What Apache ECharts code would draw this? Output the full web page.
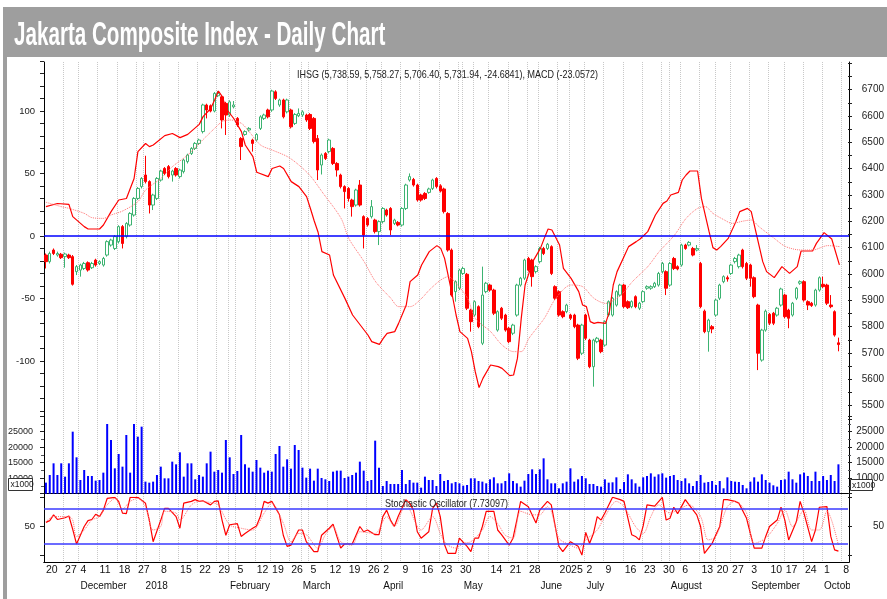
<!DOCTYPE html>
<html>
<head>
<meta charset="utf-8">
<script src="https://cdn.jsdelivr.net/npm/echarts@6/dist/echarts.min.js"></script>
<style>
  html, body { margin: 0; padding: 0; background: #fff; }
  #chart { width: 887px; height: 599px; }
</style>
</head>
<body>
<div id="chart"></div>
<script>
// trading days shown on the chart (IDX holidays left out)
const tradingDays = {
  '2017-11': [20, 21, 22, 23, 24, 27, 28, 29, 30],
  '2017-12': [4, 5, 6, 7, 8, 11, 12, 13, 14, 15, 18, 19, 20, 21, 22, 27, 28],
  '2018-01': [2, 3, 4, 5, 8, 9, 10, 11, 12, 15, 16, 17, 18, 19, 22, 23, 24, 25, 26, 29, 30, 31],
  '2018-02': [1, 2, 5, 6, 7, 8, 9, 12, 13, 14, 15, 19, 20, 21, 22, 23, 26, 27, 28],
  '2018-03': [1, 2, 5, 6, 7, 8, 9, 12, 13, 14, 15, 16, 19, 20, 21, 22, 23, 26, 27, 28, 29],
  '2018-04': [2, 3, 4, 5, 6, 9, 10, 11, 12, 13, 16, 17, 18, 19, 20, 23, 24, 25, 26, 27, 30],
  '2018-05': [2, 3, 4, 7, 8, 9, 11, 14, 15, 16, 17, 18, 21, 22, 23, 24, 25, 28, 30, 31],
  '2018-06': [4, 5, 6, 7, 8, 20, 21, 22, 25, 26, 28, 29],
  '2018-07': [2, 3, 4, 5, 6, 9, 10, 11, 12, 13, 16, 17, 18, 19, 20, 23, 24, 25, 26, 27, 30, 31],
  '2018-08': [1, 2, 3, 6, 7, 8, 9, 10, 13, 14, 15, 16, 20, 21, 23, 24, 27, 28, 29, 30, 31],
  '2018-09': [3, 4, 5, 6, 7, 10, 12, 13, 14, 17, 18, 19, 20, 21, 24, 25, 26, 27, 28],
  '2018-10': [1, 2, 3, 4, 5, 8, 9]
};
const hiddenDayLabels = ['2018-01-02', '2018-05-07', '2018-06-04'];
const monthNames = ['January', 'February', 'March', 'April', 'May', 'June', 'July',
  'August', 'September', 'October', 'November', 'December'];

const opens = [6072,6047,6091,6072,6075,6066,6072,6066,6009,6015,
  6021,6043,6024,6053,6040,6034,6072,6110,6097,6123,
  6180,6142,6186,6224,6287,6332,6376,6351,6262,6287,
  6357,6401,6408,6376,6401,6370,6389,6427,6458,6477,
  6496,6541,6642,6639,6619,6677,6673,6648,6604,6635,
  6591,6515,6530,6547,6509,6509,6553,6591,6623,6623,
  6692,6642,6661,6616,6623,6572,6601,6604,6604,6606,
  6591,6515,6414,6458,6465,6477,6420,6376,6332,6325,
  6281,6262,6338,6218,6211,6218,6205,6161,6199,6243,
  6249,6192,6196,6186,6249,6357,6359,6338,6300,6306,
  6310,6325,6363,6335,6323,6230,6091,5933,5946,6002,
  5999,5863,5844,5876,5737,5933,5958,5939,5787,5870,
  5844,5794,5775,5844,5958,5984,6059,6053,6009,6047,
  6097,6097,6104,5952,5933,5857,5857,5844,5844,5806,
  5699,5844,5749,5648,5743,5749,5730,5844,5844,5882,
  5920,5958,5895,5876,5914,5870,5895,5946,5946,5952,
  5958,6009,6009,5958,6059,6028,6034,6110,6110,6097,
  6091,6040,5859,5781,5800,5844,5908,5971,5986,6002,
  6047,6028,6091,6040,6034,5986,5882,5673,5787,5847,
  5851,5844,5882,5920,5863,5844,5908,5965,5971,5895,
  5889,5882,5939,5961,5958,5882,5857,5738.59];
const closes = [6047,6078,6078,6078,6062,6076,6062,5961,6028,6034,
  6040,6015,6040,6034,6047,6059,6123,6129,6142,6180,
  6116,6192,6230,6287,6325,6363,6351,6262,6300,6363,
  6391,6382,6370,6391,6376,6395,6433,6452,6477,6496,
  6509,6642,6623,6619,6686,6686,6585,6604,6654,6642,
  6566,6484,6541,6553,6496,6530,6597,6604,6597,6695,
  6667,6661,6597,6661,6559,6606,6610,6616,6585,6553,
  6503,6395,6452,6439,6509,6420,6395,6332,6313,6287,
  6256,6319,6262,6148,6186,6256,6161,6199,6249,6224,
  6167,6205,6186,6249,6338,6370,6338,6281,6281,6287,
  6323,6357,6332,6315,6237,6091,5920,5971,6015,6021,
  5870,5819,5895,5800,5920,5965,5939,5851,5857,5832,
  5787,5743,5806,5958,5984,6053,6015,5990,6028,6097,
  6078,6113,6002,5908,5844,5838,5882,5832,5800,5680,
  5806,5756,5648,5749,5756,5705,5819,5895,5908,5933,
  5958,5876,5872,5895,5876,5889,5933,5952,5952,5965,
  6002,6040,5946,6040,6021,6019,6110,6097,6120,6072,
  6097,5876,5781,5825,5791,5901,5958,5990,5981,6034,
  6059,6072,6028,5984,5984,5914,5699,5787,5859,5813,
  5813,5870,5943,5838,5832,5889,5946,5971,5901,5882,
  5880,5939,5986,5952,5889,5876,5768,5731.94];
const highs = [6078,6085,6097,6085,6080,6081,6077,6072,6034,6039,
  6046,6048,6046,6058,6052,6065,6128,6134,6148,6185,
  6186,6197,6235,6292,6330,6368,6449,6356,6305,6368,
  6396,6406,6414,6396,6406,6400,6438,6457,6482,6501,
  6514,6647,6647,6644,6691,6695,6680,6654,6660,6657,
  6596,6520,6546,6558,6514,6535,6603,6609,6628,6700,
  6698,6666,6666,6666,6628,6611,6629,6622,6609,6611,
  6596,6528,6458,6463,6514,6482,6425,6381,6337,6330,
  6286,6324,6357,6223,6216,6281,6210,6204,6254,6248,
  6254,6210,6201,6254,6343,6382,6365,6343,6305,6311,
  6328,6362,6368,6341,6328,6235,6097,5976,6020,6027,
  6004,5868,5900,5881,6028,5970,5963,5944,5862,5875,
  5849,5799,5811,5963,5989,6058,6065,6058,6033,6103,
  6103,6118,6109,5957,5938,5862,5887,5849,5849,5811,
  5811,5849,5754,5754,5761,5754,5824,5900,5913,5938,
  5963,5963,5900,5900,5919,5894,5938,5957,5957,5970,
  6008,6046,6014,6046,6065,6033,6115,6115,6125,6103,
  6110,6046,5865,5830,5806,5906,5963,5995,5994,6039,
  6065,6077,6096,6046,6039,5991,5887,5792,5865,5852,
  5856,5875,5948,5925,5868,5894,5951,5976,5976,5900,
  5894,5944,5991,5990,5963,5920,5862,5758.27];
const lows = [6021,6040,6072,6066,6057,6024,6057,5956,5996,5990,
  6015,6009,6019,6028,6034,6028,6066,6104,6091,6116,
  6097,6135,6180,6218,6281,6325,6344,6230,6243,6281,
  6351,6376,6363,6351,6370,6363,6382,6420,6452,6471,
  6490,6534,6591,6614,6614,6672,6553,6528,6597,6629,
  6559,6433,6525,6541,6465,6503,6547,6585,6591,6616,
  6661,6635,6591,6610,6553,6566,6596,6597,6578,6547,
  6496,6357,6378,6433,6458,6414,6370,6325,6249,6275,
  6218,6256,6256,6097,6180,6211,6154,6110,6192,6218,
  6148,6186,6181,6180,6243,6351,6332,6275,6275,6281,
  6305,6319,6325,6310,6230,6085,5914,5895,5939,5996,
  5863,5781,5838,5794,5730,5927,5933,5844,5781,5825,
  5781,5737,5768,5838,5952,5977,6009,5952,6002,6040,
  6072,6091,5996,5901,5838,5832,5851,5825,5794,5673,
  5692,5749,5642,5572,5737,5699,5724,5838,5838,5876,
  5914,5870,5867,5870,5870,5863,5889,5940,5940,5947,
  5952,6002,5920,5952,6015,6014,6028,6092,6105,6067,
  6086,5870,5775,5705,5775,5838,5901,5965,5971,5996,
  6040,6021,6021,5977,5952,5908,5635,5667,5781,5806,
  5806,5838,5876,5832,5794,5838,5901,5959,5895,5863,
  5875,5876,5933,5947,5882,5870,5762,5706.40];

// volume, thousands of shares
const volumes = [8564,11037,14799,11037,14799,10499,14799,25011,16734,9424,
  12649,10714,10714,9209,9424,11789,27484,22324,13186,17809,
  13724,23936,11789,27484,23399,26624,8887,8564,8887,11037,
  13724,9962,9962,15336,14476,18346,10499,14799,14799,9639,
  11037,10499,14799,18561,12111,12649,11789,22324,16734,11359,
  12326,23936,14476,13401,12111,15874,13401,11789,12434,12111,
  17809,20389,13724,16089,13079,20711,19099,13401,10176,13079,
  9209,13079,10069,9639,9101,12111,12434,12434,10069,10499,
  11037,11789,15336,12434,9101,9424,22109,13401,7489,9101,
  8134,8134,8134,12649,8134,9424,8564,8564,6952,10499,
  9424,9424,7489,11359,9101,9424,8349,8779,8349,7597,
  7812,9962,9962,9101,8887,8349,9639,10284,8349,8349,
  9101,11574,9101,8349,7274,9209,11359,12864,11359,12864,
  16411,9639,8349,8349,6737,8349,8887,13186,8887,9639,
  10714,9962,8134,8134,7489,7274,9639,8564,8671,10284,
  6522,8779,11251,9639,8349,7274,10284,10714,11574,10499,
  11251,11574,10176,10714,11037,9424,9101,9962,8349,7489,
  9101,11037,8564,8779,9101,7812,9101,6737,10284,9101,
  8887,8779,7812,6737,8887,10284,8887,11251,9424,8564,
  7704,7274,9424,9639,12111,9639,8564,11251,11789,10714,
  9101,12111,9101,10714,9424,11037,9101,14476];

// MACD line and its signal line: [day index, value]
const macdLine = [[0,23.5],[3,26],[6,25.3],[7,15.5],[10,7.5],[11,5.6],[14,5.6],[15,8.8],[17,19.5],
  [19,28.8],[21,30],[23,46],[24,67.5],[26,74],[27,71.5],[28,72.8],[31,80.3],[33,82],[35,78.7],
  [37,81.3],[40,89.3],[41,95.5],[43,102],[44,108.8],[45,116],[46,111.5],[47,102],[49,94],[51,83.5],
  [52,72.8],[54,63.5],[55,51],[58,47.5],[59,54],[61,56],[62,54],[64,43.5],[66,39.5],[68,31.5],
  [69,22],[70,12],[71,3],[72,-12.5],[74,-15.2],[75,-31.2],[78,-49.9],[80,-63.2],[81,-67.2],
  [84,-79.2],[85,-84.5],[87,-86.7],[88,-81.9],[89,-77.9],[91,-76.5],[92,-69.9],[94,-55.2],
  [95,-36.5],[97,-31.2],[98,-23.2],[100,-12.5],[102,-7.7],[103,-9.9],[104,-17.9],[105,-32.5],
  [106,-47.2],[107,-63.2],[108,-76.5],[110,-81.9],[111,-92.5],[112,-108.5],[113,-121.3],
  [114,-113.9],[116,-103.2],[118,-104.5],[119,-105.9],[121,-111.7],[122,-111.2],[123,-97.9],
  [124,-65.9],[125,-39.2],[127,-20.5],[129,-9.9],[130,-1.9],[131,5.6],[132,4.8],[134,-7.2],
  [135,-25.9],[137,-33.9],[139,-44.5],[140,-55.2],[141,-56.5],[142,-68.5],[143,-69.9],
  [144,-69.1],[146,-69.9],[147,-60.5],[148,-39.2],[149,-28.5],[151,-15.2],[152,-8.5],
  [154,-4.5],[155,-2.4],[157,3.5],[159,16.8],[161,26.1],[162,28],[163,32.8],[165,34.9],
  [166,44.8],[167,48.8],[168,52],[170,52],[171,30.1],[173,3.5],[174,-9.3],[175,-11.2],
  [176,-8.5],[178,-1.9],[180,11.5],[181,19.5],[183,22.1],[184,19.5],[185,6.1],[187,-20.5],
  [188,-28.5],[190,-33.3],[192,-24.5],[194,-29.9],[196,-24.5],[197,-12],[200,-12],[201,-5.9],
  [203,2.7],[205,-2.4],[207,-23.06]];
const signalLine = [[0,27],[4,23.5],[6,22.1],[10,18.1],[12,14.7],[15,14.1],[17,16.8],[20,20],
  [24,27.5],[26,36.8],[30,46.1],[33,55.5],[37,64.8],[40,74.1],[44,86.1],[46,91.5],[48,92.8],
  [51,90.1],[53,83.5],[56,72.8],[59,68.8],[63,63.5],[66,56.8],[69,48],[72,35.5],[77,14.1],
  [79,-1.9],[83,-20.5],[86,-36.5],[90,-49.9],[92,-56.5],[95,-56.5],[98,-49.9],[100,-43.2],
  [103,-35.2],[105,-32.5],[107,-37.9],[110,-49.9],[112,-65.9],[116,-76.5],[119,-87.2],
  [122,-92.5],[124,-92.5],[126,-81.9],[130,-65.9],[133,-49.9],[137,-39.2],[140,-40.5],
  [143,-49.9],[146,-53.9],[150,-47.2],[153,-36.5],[157,-24.5],[160,-12.5],[164,0.8],
  [167,14.1],[170,22.1],[172,23.5],[174,18.1],[177,12.8],[179,10.1],[182,12],[184,12.8],
  [186,7.5],[190,-1.9],[193,-8.5],[197,-11.2],[200,-11.2],[204,-7.7],[207,-8.5]];

// stochastic %K and %D: [day index, value]
const stochK = [[0,57],[1,60],[2,70],[3,62],[5,65],[6,68],[7,45],[8,20],[10,50],[11,60],[12,62],
  [13,71],[14,67],[15,78],[16,98],[18,100],[19,93],[20,73],[21,72],[22,100],[24,100],[26,90],
  [27,61],[28,24],[30,61],[31,81],[32,81],[34,67],[35,47],[36,90],[38,93],[39,96],[40,93],
  [41,94],[43,87],[44,93],[45,94],[46,61],[47,35],[48,53],[50,55],[51,33],[52,38],[54,47],
  [55,51],[56,67],[57,93],[58,90],[59,93],[61,70],[62,35],[63,16],[64,18],[66,44],[67,44],
  [68,24],[70,7],[71,7],[72,35],[74,47],[75,54],[76,33],[77,13],[78,20],[80,20],[82,50],
  [83,41],[84,44],[86,36],[87,36],[88,67],[89,78],[90,61],[91,50],[92,67],[94,96],[95,90],
  [96,78],[97,41],[98,30],[100,41],[101,81],[102,90],[103,67],[104,21],[105,4],[107,4],
  [108,30],[110,16],[111,7],[112,30],[113,30],[114,50],[115,76],[117,76],[118,44],[119,36],
  [121,18],[122,30],[123,61],[124,93],[126,84],[128,56],[129,78],[131,93],[132,87],[134,16],
  [135,7],[137,24],[139,16],[140,1],[141,40],[142,21],[143,38],[144,67],[145,61],[146,73],
  [148,100],[150,96],[151,93],[153,36],[154,33],[155,27],[156,51],[157,87],[159,85],[161,100],
  [162,61],[163,64],[164,83],[165,72],[167,96],[168,87],[170,70],[171,50],[172,4],[174,21],
  [175,36],[176,50],[177,96],[178,96],[180,93],[181,90],[183,64],[184,38],[185,13],[187,13],
  [188,33],[189,50],[191,61],[192,83],[193,61],[194,27],[196,58],[197,93],[198,73],[200,24],
  [201,44],[202,83],[204,84],[205,33],[206,10],[207,7.73]];
const stochD = [[0,58],[2,67],[6,67],[7,61],[8,33],[10,44],[12,61],[14,67],[16,87],[18,98],
  [20,80],[22,93],[24,98],[26,84],[28,44],[30,50],[31,76],[34,73],[35,61],[38,87],[40,93],
  [44,90],[45,87],[48,53],[51,47],[54,44],[57,73],[59,90],[62,56],[64,24],[66,38],[68,36],
  [71,13],[73,36],[75,50],[77,24],[80,18],[82,41],[86,38],[89,67],[91,50],[94,87],[98,44],
  [101,67],[103,38],[104,25],[105,18],[107,13],[109,21],[111,24],[114,44],[116,67],[118,55],
  [120,35],[122,30],[124,76],[127,70],[129,70],[131,84],[132,76],[134,30],[137,18],[139,13],
  [141,27],[144,44],[146,67],[149,93],[151,84],[154,50],[156,38],[158,67],[160,87],[163,73],
  [165,78],[168,87],[171,67],[173,27],[175,33],[178,84],[180,93],[183,73],[185,21],[188,30],
  [191,55],[193,78],[195,50],[198,78],[200,44],[202,44],[204,76],[207,18]];

// build categories and week / month markers
const cats = [];
Object.keys(tradingDays).forEach(m => {
  tradingDays[m].forEach(d => cats.push(m + '-' + String(d).padStart(2, '0')));
});
const dayNum = s => Date.UTC(+s.slice(0, 4), +s.slice(5, 7) - 1, +s.slice(8, 10)) / 86400000;
const weekOf = s => Math.floor((dayNum(s) + 3) / 7);
const weekStart = cats.map((c, i) => i === 0 || weekOf(c) !== weekOf(cats[i - 1]));
const monthStart = cats.map((c, i) => i > 0 && c.slice(0, 7) !== cats[i - 1].slice(0, 7));
const tickAt = i => weekStart[i] || monthStart[i];

const candles = opens.map((o, i) => [o, closes[i], lows[i], highs[i]]);

const SANS = "'Liberation Sans', Arial, sans-serif";
const green = '#3cb371';
const red = '#ff0000';
const L = 44, R = 38;

const hiddenX = gi => ({ type: 'category', gridIndex: gi, data: cats, boundaryGap: true, show: false });
const yTick = { show: true, length: 4, lineStyle: { color: '#222' } };

const chart = echarts.init(document.getElementById('chart'), null, { renderer: 'canvas' });
chart.setOption({
  animation: false,
  backgroundColor: '#fff',
  grid: [
    { left: L, right: R, top: 63.4, height: 355.4 },  // price
    { left: L, right: R, top: 61, height: 350 },      // MACD
    { left: L, right: R, top: 416.2, height: 77.5 },  // volume
    { left: L, right: R, top: 497.3, height: 58.4 },  // stochastic
    { left: L, right: R, top: 62, height: 500 }       // frame + dates
  ],
  xAxis: [
    hiddenX(0), hiddenX(1),
    { type: 'category', gridIndex: 2, data: cats, boundaryGap: true,
      axisLine: { lineStyle: { color: '#000' } }, axisTick: { show: false }, axisLabel: { show: false } },
    hiddenX(3),
    { type: 'category', gridIndex: 4, data: cats, boundaryGap: true, position: 'bottom',
      axisLine: { lineStyle: { color: '#000', width: 1 } },
      axisTick: { interval: tickAt, length: 15, lineStyle: { color: '#999', width: 2 } },
      axisLabel: {
        interval: i => weekStart[i] && hiddenDayLabels.indexOf(cats[i]) < 0,
        formatter: v => String(+v.slice(8)),
        align: 'left', margin: 3, color: '#111', fontSize: 10.5, fontFamily: SANS
      },
      splitLine: { show: true, interval: tickAt, lineStyle: { color: '#c8c8c8', type: 'dotted', width: 1 } }
    },
    { type: 'category', gridIndex: 4, data: cats, boundaryGap: true, position: 'bottom', offset: 16,
      axisLine: { lineStyle: { color: '#000', width: 1 } },
      axisTick: { interval: i => monthStart[i], length: 15, lineStyle: { color: '#555', width: 1.5 } },
      axisLabel: {
        interval: i => monthStart[i],
        formatter: v => v.slice(5, 7) === '01' ? v.slice(0, 4) : monthNames[+v.slice(5, 7) - 1],
        align: 'left', margin: 3, color: '#111', fontSize: 10, fontFamily: SANS
      }
    }
  ],
  yAxis: [
    { type: 'value', gridIndex: 0, position: 'right', min: 5450, max: 6800, interval: 50,
      axisLine: { show: false }, axisTick: yTick, splitLine: { show: false },
      axisLabel: { formatter: v => (v % 100 === 0 && v < 6800) ? String(v) : '', align: 'right',
        margin: 36, color: '#222', fontSize: 10, fontFamily: SANS } },
    { type: 'value', gridIndex: 1, position: 'left', min: -140, max: 140, interval: 10,
      axisLine: { show: false }, axisTick: yTick, splitLine: { show: false },
      axisLabel: { formatter: v => v % 50 === 0 ? String(v) : '', margin: 9, color: '#222',
        fontSize: 9.5, fontFamily: SANS } },
    { type: 'value', gridIndex: 2, position: 'left', min: 5000, max: 30000, interval: 5000,
      axisLine: { show: false }, axisTick: yTick, minorTick: { show: true, splitNumber: 2, length: 3 },
      splitLine: { show: false },
      axisLabel: { formatter: v => (v > 5000 && v < 30000) ? String(v) : '', margin: 11, color: '#222',
        fontSize: 9, fontFamily: SANS } },
    { type: 'value', gridIndex: 2, position: 'right', min: 5000, max: 30000, interval: 5000,
      axisLine: { show: false }, axisTick: yTick, minorTick: { show: true, splitNumber: 2, length: 3 },
      splitLine: { show: false },
      axisLabel: { formatter: v => (v > 5000 && v < 30000) ? String(v) : '', align: 'right', margin: 36,
        color: '#222', fontSize: 10, fontFamily: SANS } },
    { type: 'value', gridIndex: 3, position: 'left', min: 0, max: 100, interval: 50,
      axisLine: { show: false }, axisTick: yTick, splitLine: { show: false },
      axisLabel: { formatter: v => v === 50 ? '50' : '', margin: 9, color: '#222', fontSize: 9.5, fontFamily: SANS } },
    { type: 'value', gridIndex: 3, position: 'right', min: 0, max: 100, interval: 50,
      axisLine: { show: false }, axisTick: yTick, splitLine: { show: false },
      axisLabel: { formatter: v => v === 50 ? '50' : '', align: 'right', margin: 36, color: '#222',
        fontSize: 10, fontFamily: SANS } },
    { type: 'value', gridIndex: 4, position: 'left', min: 0, max: 1, show: true,
      axisLine: { show: true, lineStyle: { color: '#000' } }, axisTick: { show: false },
      axisLabel: { show: false }, splitLine: { show: false } },
    { type: 'value', gridIndex: 4, position: 'right', min: 0, max: 1, show: true,
      axisLine: { show: true, lineStyle: { color: '#000' } }, axisTick: { show: false },
      axisLabel: { show: false }, splitLine: { show: false } }
  ],
  series: [
    {
      name: 'IHSG', type: 'candlestick', xAxisIndex: 0, yAxisIndex: 0, data: candles,
      barWidth: '78%',
      itemStyle: { color: '#ffffff', color0: red, borderColor: green, borderColor0: red, borderWidth: 1 }
    },
    {
      name: 'MACD', type: 'line', xAxisIndex: 1, yAxisIndex: 1, data: macdLine,
      symbol: 'none', lineStyle: { color: red, width: 1.2 }, z: 3,
      markLine: { silent: true, symbol: 'none', label: { show: false },
        lineStyle: { color: '#0000ff', width: 1.5, type: 'solid' }, data: [{ yAxis: 0 }] }
    },
    {
      name: 'Signal', type: 'line', xAxisIndex: 1, yAxisIndex: 1, data: signalLine,
      symbol: 'none', smooth: 0.3, lineStyle: { color: '#ff7373', width: 1, type: 'dotted' }, z: 3
    },
    {
      name: 'Volume', type: 'bar', xAxisIndex: 2, yAxisIndex: 2, data: volumes,
      barWidth: 2, itemStyle: { color: '#0000ff' }
    },
    {
      name: '%K', type: 'line', xAxisIndex: 3, yAxisIndex: 4, data: stochK,
      symbol: 'none', lineStyle: { color: red, width: 1.2 }, z: 3,
      markLine: { silent: true, symbol: 'none', label: { show: false },
        lineStyle: { color: '#3a3aff', width: 1.5, type: 'solid' }, data: [{ yAxis: 80 }, { yAxis: 20 }] }
    },
    {
      name: '%D', type: 'line', xAxisIndex: 3, yAxisIndex: 4, data: stochD,
      symbol: 'none', smooth: 0.3, lineStyle: { color: '#ff7373', width: 1, type: 'dotted' }, z: 3
    }
  ],
  graphic: [
    { type: 'rect', z: 100, shape: { x: 3, y: 7, width: 884, height: 50 }, style: { fill: '#9e9e9e' } },
    { type: 'rect', z: 100, shape: { x: 3, y: 57, width: 4, height: 542 }, style: { fill: '#9e9e9e' } },
    { type: 'text', z: 101, x: 14, y: 19, scaleX: 0.625,
      style: { text: 'Jakarta Composite Index - Daily Chart', fill: '#fff',
        font: "bold 33px 'Liberation Sans', sans-serif", verticalAlign: 'top' } },
    { type: 'text', z: 50, x: 297, y: 70, scaleX: 0.855,
      style: { text: 'IHSG (5,738.59, 5,758.27, 5,706.40, 5,731.94, -24.6841), MACD (-23.0572)',
        fill: '#222', font: "10.5px 'Liberation Sans', sans-serif", verticalAlign: 'top' } },
    { type: 'text', z: 50, x: 385, y: 499, scaleX: 0.86,
      style: { text: 'Stochastic Oscillator (7.73097)',
        fill: '#222', font: "10.5px 'Liberation Sans', sans-serif", verticalAlign: 'top' } },
    { type: 'rect', z: 50, shape: { x: 850, y: 579, width: 37, height: 20 }, style: { fill: '#fff' } },
    { type: 'rect', z: 50, shape: { x: 8.5, y: 478.5, width: 24, height: 12 }, style: { fill: '#fff', stroke: '#333', lineWidth: 1 } },
    { type: 'text', z: 51, x: 10.5, y: 480.5,
      style: { text: 'x1000', fill: '#222', font: "8.5px 'Liberation Sans', sans-serif", verticalAlign: 'top' } },
    { type: 'rect', z: 50, shape: { x: 850.5, y: 479.5, width: 22, height: 11 }, style: { fill: '#fff', stroke: '#333', lineWidth: 1 } },
    { type: 'text', z: 51, x: 852, y: 481,
      style: { text: 'x1000', fill: '#222', font: "8.5px 'Liberation Sans', sans-serif", verticalAlign: 'top' } }
  ]
});
</script>
</body>
</html>
